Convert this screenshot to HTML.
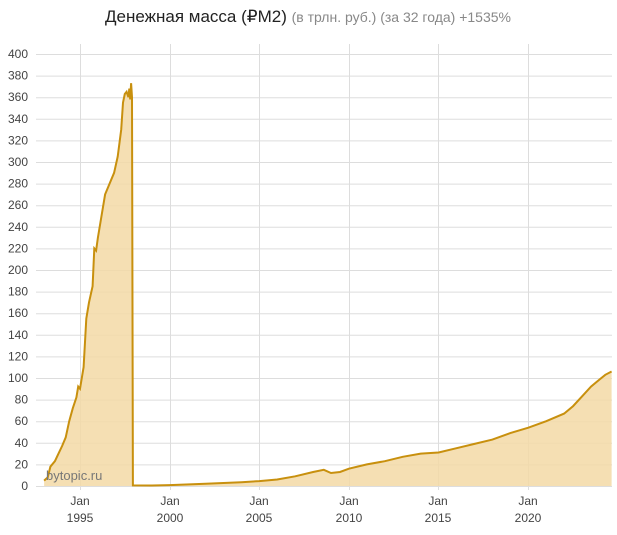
<!DOCTYPE html>
<html><head><meta charset="utf-8"><style>
body{margin:0;background:#fff;width:617px;height:530px;overflow:hidden}
svg{font-family:"Liberation Sans",Arial,sans-serif}
</style></head><body>
<svg id="s" width="617" height="530" xmlns="http://www.w3.org/2000/svg">
<text x="308" y="22" text-anchor="middle" font-size="17" fill="#222">Денежная масса (₽M2) <tspan font-size="14" fill="#888">(в трлн. руб.) (за 32 года) +1535%</tspan></text>
<g id="grid" stroke="#ddd" stroke-width="1"></g>
<g id="yl" font-size="12" fill="#444" text-anchor="end"></g>
<path id="area" fill="#f3d9a6" fill-opacity="0.85" stroke="none"/>
<path id="line" fill="none" stroke="#c8900e" stroke-width="2"/>
<text x="46" y="480" font-size="13" fill="#777">bytopic.ru</text>
<g font-size="12" fill="#444" text-anchor="middle">
<text x="80" y="505">Jan</text><text x="80" y="522">1995</text>
<text x="170" y="505">Jan</text><text x="170" y="522">2000</text>
<text x="259" y="505">Jan</text><text x="259" y="522">2005</text>
<text x="349" y="505">Jan</text><text x="349" y="522">2010</text>
<text x="438" y="505">Jan</text><text x="438" y="522">2015</text>
<text x="528" y="505">Jan</text><text x="528" y="522">2020</text>
</g>
</svg>
<script>
var NS="http://www.w3.org/2000/svg";
function Y(v){return 486-v*1.08}
function X(t){return 80+(t-1995)*17.93}
var g=document.getElementById('grid'),yl=document.getElementById('yl');
for(var v=0;v<=400;v+=20){var l=document.createElementNS(NS,'line');l.setAttribute('x1',36);l.setAttribute('x2',612);l.setAttribute('y1',Y(v)+.5);l.setAttribute('y2',Y(v)+.5);g.appendChild(l);
var t=document.createElementNS(NS,'text');t.setAttribute('x',28);t.setAttribute('y',Y(v)+4);t.textContent=v;yl.appendChild(t);}
[80,170,259,349,438,528].forEach(function(x){var l=document.createElementNS(NS,'line');l.setAttribute('x1',x+.5);l.setAttribute('x2',x+.5);l.setAttribute('y1',44);l.setAttribute('y2',490);g.appendChild(l);});
var d=[[1993.0,5],[1993.2,8],[1993.35,18],[1993.6,23],[1993.8,30],[1994.0,37],[1994.2,45],[1994.4,60],[1994.6,72],[1994.8,82],[1994.9,92],[1995.0,90],[1995.1,100],[1995.2,110],[1995.35,155],[1995.5,170],[1995.7,185],[1995.8,220],[1995.9,218],[1996.0,230],[1996.2,250],[1996.4,270],[1996.6,278],[1996.9,290],[1997.1,305],[1997.3,330],[1997.4,355],[1997.5,363],[1997.6,365],[1997.7,360],[1997.75,368],[1997.8,358],[1997.85,373],[1997.9,360],[1997.95,0.6],[1999,0.5],[2000,0.8],[2002,2],[2004,3.5],[2005,4.5],[2006,6],[2007,9],[2008,13],[2008.6,15],[2009,12],[2009.5,13],[2010,16],[2011,20],[2012,23],[2013,27],[2014,30],[2015,31],[2016,35],[2017,39],[2018,43],[2019,49],[2020,54],[2021,60],[2022,67],[2022.5,74],[2023,83],[2023.5,92],[2024,99],[2024.3,103],[2024.65,106]];
var p=d.map(function(a,i){return (i?'L':'M')+X(a[0]).toFixed(1)+','+Y(a[1]).toFixed(1)}).join('');
document.getElementById('line').setAttribute('d',p);
document.getElementById('area').setAttribute('d',p+'L'+X(2024.65)+','+Y(0)+'L'+X(1993)+','+Y(0)+'Z');
</script>
</body></html>
